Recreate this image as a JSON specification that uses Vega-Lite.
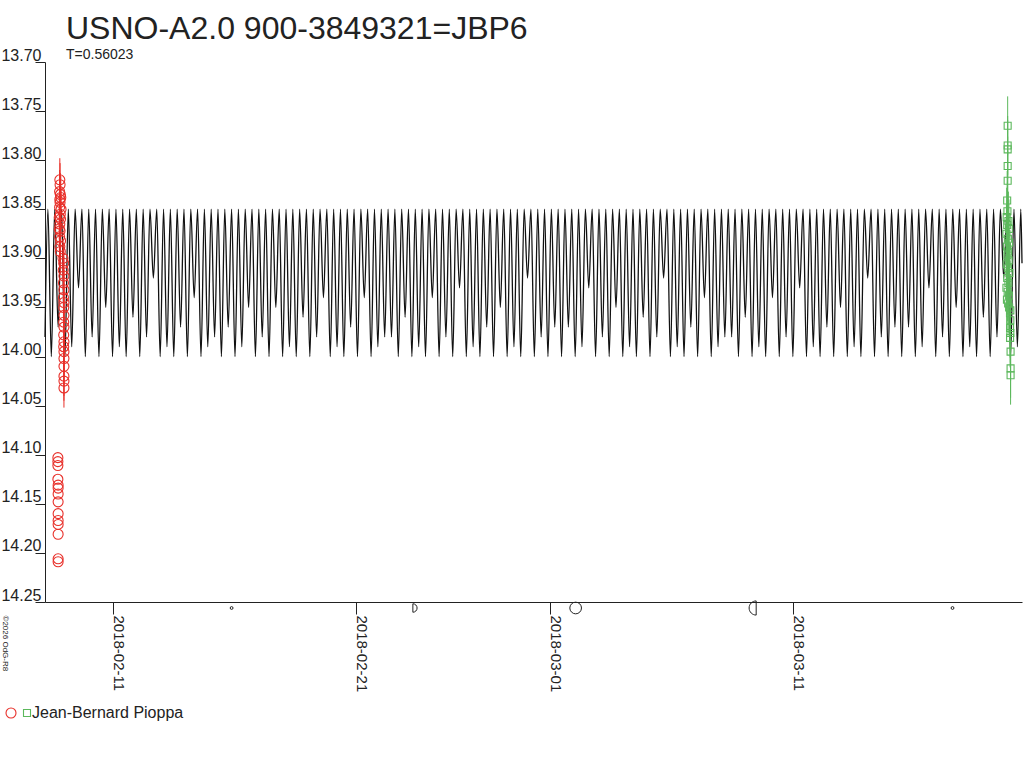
{
"$schema":"https://vega.github.io/schema/vega-lite/v6.json",
"width":977,"height":540,
"autosize":"none",
"padding":{"left":45,"top":62,"right":2,"bottom":166},
"background":"white",
"config":{"view":{"stroke":null},"font":"Liberation Sans","axis":{"grid":false,"domainColor":"#222","tickColor":"#222","labelColor":"#222","labelFont":"Liberation Sans","titleFont":"Liberation Sans"},"legend":{"padding":0,"symbolStrokeWidth":1.1}},
"title":{"text":"USNO-A2.0 900-3849321=JBP6","subtitle":"T=0.56023","anchor":"start","frame":"group","dx":21,"offset":-16,"fontSize":32,"fontWeight":"normal","font":"Liberation Sans","color":"#222","subtitleFont":"Liberation Sans","subtitleFontSize":14,"subtitleColor":"#222","subtitlePadding":2},
"datasets":{
"curve":[
{"t":157.70,"m":13.98},
{"t":157.82,"m":13.85},{"t":157.96,"m":14.00},{"t":158.10,"m":13.85},{"t":158.24,"m":13.97},{"t":158.38,"m":13.85},{"t":158.52,"m":14.00},{"t":158.66,"m":13.85},{"t":158.80,"m":13.99},{"t":158.94,"m":13.85},{"t":159.08,"m":13.93},
{"t":159.22,"m":13.85},{"t":159.36,"m":14.00},{"t":159.50,"m":13.85},{"t":159.64,"m":13.98},{"t":159.78,"m":13.85},{"t":159.92,"m":14.00},{"t":160.06,"m":13.85},{"t":160.20,"m":13.95},{"t":160.34,"m":13.85},{"t":160.48,"m":14.00},
{"t":160.62,"m":13.85},{"t":160.76,"m":13.99},{"t":160.90,"m":13.85},{"t":161.04,"m":14.00},{"t":161.18,"m":13.85},{"t":161.32,"m":13.96},{"t":161.46,"m":13.85},{"t":161.60,"m":14.00},{"t":161.74,"m":13.85},{"t":161.88,"m":13.98},
{"t":162.02,"m":13.85},{"t":162.16,"m":13.92},{"t":162.30,"m":13.85},{"t":162.44,"m":14.00},{"t":162.58,"m":13.85},{"t":162.72,"m":13.99},{"t":162.86,"m":13.85},{"t":163.00,"m":14.00},{"t":163.14,"m":13.85},{"t":163.28,"m":13.97},
{"t":163.42,"m":13.85},{"t":163.56,"m":14.00},{"t":163.70,"m":13.85},{"t":163.84,"m":13.94},{"t":163.98,"m":13.85},{"t":164.12,"m":14.00},{"t":164.26,"m":13.85},{"t":164.40,"m":13.99},{"t":164.54,"m":13.85},{"t":164.68,"m":13.98},
{"t":164.82,"m":13.85},{"t":164.96,"m":14.00},{"t":165.10,"m":13.85},{"t":165.24,"m":13.97},{"t":165.38,"m":13.85},{"t":165.52,"m":14.00},{"t":165.66,"m":13.85},{"t":165.80,"m":13.99},{"t":165.94,"m":13.85},{"t":166.08,"m":13.95},
{"t":166.22,"m":13.85},{"t":166.36,"m":14.00},{"t":166.50,"m":13.85},{"t":166.64,"m":13.98},{"t":166.78,"m":13.85},{"t":166.92,"m":14.00},{"t":167.06,"m":13.85},{"t":167.20,"m":13.95},{"t":167.34,"m":13.85},{"t":167.48,"m":14.00},
{"t":167.62,"m":13.85},{"t":167.76,"m":13.99},{"t":167.90,"m":13.85},{"t":168.04,"m":14.00},{"t":168.18,"m":13.85},{"t":168.32,"m":13.96},{"t":168.46,"m":13.85},{"t":168.60,"m":14.00},{"t":168.74,"m":13.85},{"t":168.88,"m":13.98},
{"t":169.02,"m":13.85},{"t":169.16,"m":13.94},{"t":169.30,"m":13.85},{"t":169.44,"m":14.00},{"t":169.58,"m":13.85},{"t":169.72,"m":13.99},{"t":169.86,"m":13.85},{"t":170.00,"m":14.00},{"t":170.14,"m":13.85},{"t":170.28,"m":13.97},
{"t":170.42,"m":13.85},{"t":170.56,"m":14.00},{"t":170.70,"m":13.85},{"t":170.84,"m":13.94},{"t":170.98,"m":13.85},{"t":171.12,"m":14.00},{"t":171.26,"m":13.85},{"t":171.40,"m":13.99},{"t":171.54,"m":13.85},{"t":171.68,"m":13.98},
{"t":171.82,"m":13.85},{"t":171.96,"m":13.98},{"t":172.10,"m":13.85},{"t":172.24,"m":14.00},{"t":172.38,"m":13.85},{"t":172.52,"m":13.96},{"t":172.66,"m":13.85},{"t":172.80,"m":14.00},{"t":172.94,"m":13.85},{"t":173.08,"m":13.99},
{"t":173.22,"m":13.85},{"t":173.36,"m":14.00},{"t":173.50,"m":13.85},{"t":173.64,"m":13.94},{"t":173.78,"m":13.85},{"t":173.92,"m":14.00},{"t":174.06,"m":13.85},{"t":174.20,"m":13.98},{"t":174.34,"m":13.85},{"t":174.48,"m":14.00},
{"t":174.62,"m":13.85},{"t":174.76,"m":13.93},{"t":174.90,"m":13.85},{"t":175.04,"m":14.00},{"t":175.18,"m":13.85},{"t":175.32,"m":13.99},{"t":175.46,"m":13.85},{"t":175.60,"m":14.00},{"t":175.74,"m":13.85},{"t":175.88,"m":13.97},
{"t":176.02,"m":13.85},{"t":176.16,"m":14.00},{"t":176.30,"m":13.85},{"t":176.44,"m":13.95},{"t":176.58,"m":13.85},{"t":176.72,"m":14.00},{"t":176.86,"m":13.85},{"t":177.00,"m":13.99},{"t":177.14,"m":13.85},{"t":177.28,"m":14.00},
{"t":177.42,"m":13.85},{"t":177.56,"m":13.92},{"t":177.70,"m":13.85},{"t":177.84,"m":14.00},{"t":177.98,"m":13.85},{"t":178.12,"m":13.98},{"t":178.26,"m":13.85},{"t":178.40,"m":14.00},{"t":178.54,"m":13.85},{"t":178.68,"m":13.97},
{"t":178.82,"m":13.85},{"t":178.96,"m":14.00},{"t":179.10,"m":13.85},{"t":179.24,"m":13.97},{"t":179.38,"m":13.85},{"t":179.52,"m":14.00},{"t":179.66,"m":13.85},{"t":179.80,"m":13.99},{"t":179.94,"m":13.85},{"t":180.08,"m":13.93},
{"t":180.22,"m":13.85},{"t":180.36,"m":14.00},{"t":180.50,"m":13.85},{"t":180.64,"m":13.98},{"t":180.78,"m":13.85},{"t":180.92,"m":14.00},{"t":181.06,"m":13.85},{"t":181.20,"m":13.95},{"t":181.34,"m":13.85},{"t":181.48,"m":14.00},
{"t":181.62,"m":13.85},{"t":181.76,"m":13.99},{"t":181.90,"m":13.85},{"t":182.04,"m":14.00},{"t":182.18,"m":13.85},{"t":182.32,"m":13.96},{"t":182.46,"m":13.85},{"t":182.60,"m":14.00},{"t":182.74,"m":13.85},{"t":182.88,"m":13.98},
{"t":183.02,"m":13.85},{"t":183.16,"m":13.92},{"t":183.30,"m":13.85},{"t":183.44,"m":14.00},{"t":183.58,"m":13.85},{"t":183.72,"m":13.99},{"t":183.86,"m":13.85},{"t":184.00,"m":14.00},{"t":184.14,"m":13.85},{"t":184.28,"m":13.97},
{"t":184.42,"m":13.85},{"t":184.56,"m":14.00},{"t":184.70,"m":13.85},{"t":184.84,"m":13.94},{"t":184.98,"m":13.85},{"t":185.12,"m":14.00},{"t":185.26,"m":13.85},{"t":185.40,"m":13.99},{"t":185.54,"m":13.85},{"t":185.68,"m":13.98},
{"t":185.82,"m":13.85},{"t":185.96,"m":13.98},{"t":186.10,"m":13.85},{"t":186.24,"m":14.00},{"t":186.38,"m":13.85},{"t":186.52,"m":13.96},{"t":186.66,"m":13.85},{"t":186.80,"m":14.00},{"t":186.94,"m":13.85},{"t":187.08,"m":13.99},
{"t":187.22,"m":13.85},{"t":187.36,"m":14.00},{"t":187.50,"m":13.85},{"t":187.64,"m":13.94},{"t":187.78,"m":13.85},{"t":187.92,"m":14.00},{"t":188.06,"m":13.85},{"t":188.20,"m":13.98},{"t":188.34,"m":13.85},{"t":188.48,"m":14.00},
{"t":188.62,"m":13.85},{"t":188.76,"m":13.93},{"t":188.90,"m":13.85},{"t":189.04,"m":14.00},{"t":189.18,"m":13.85},{"t":189.32,"m":13.99},{"t":189.46,"m":13.85},{"t":189.60,"m":14.00},{"t":189.74,"m":13.85},{"t":189.88,"m":13.97},
{"t":190.02,"m":13.85},{"t":190.16,"m":14.00},{"t":190.30,"m":13.85},{"t":190.44,"m":13.95},{"t":190.58,"m":13.85},{"t":190.72,"m":14.00},{"t":190.86,"m":13.85},{"t":191.00,"m":13.99},{"t":191.14,"m":13.85},{"t":191.28,"m":14.00},
{"t":191.42,"m":13.85},{"t":191.56,"m":13.92},{"t":191.70,"m":13.85},{"t":191.84,"m":14.00},{"t":191.98,"m":13.85},{"t":192.12,"m":13.98},{"t":192.26,"m":13.85},{"t":192.40,"m":14.00},{"t":192.54,"m":13.85},{"t":192.68,"m":13.97},
{"t":192.82,"m":13.85},{"t":192.96,"m":14.00},{"t":193.10,"m":13.85},{"t":193.24,"m":13.97},{"t":193.38,"m":13.85},{"t":193.52,"m":14.00},{"t":193.66,"m":13.85},{"t":193.80,"m":13.99},{"t":193.94,"m":13.85},{"t":194.08,"m":13.93},
{"t":194.22,"m":13.85},{"t":194.36,"m":14.00},{"t":194.50,"m":13.85},{"t":194.64,"m":13.98},{"t":194.78,"m":13.85},{"t":194.92,"m":14.00},{"t":195.06,"m":13.85},{"t":195.20,"m":13.95},{"t":195.34,"m":13.85},{"t":195.48,"m":14.00},
{"t":195.62,"m":13.85},{"t":195.76,"m":13.99},{"t":195.90,"m":13.85},{"t":196.04,"m":14.00},{"t":196.18,"m":13.85},{"t":196.32,"m":13.96},{"t":196.46,"m":13.85},{"t":196.60,"m":14.00},{"t":196.74,"m":13.85},{"t":196.88,"m":13.98},
{"t":197.02,"m":13.85},{"t":197.16,"m":13.92},{"t":197.30,"m":13.85},{"t":197.44,"m":14.00},{"t":197.58,"m":13.85},{"t":197.72,"m":13.99},{"t":197.86,"m":13.85},{"t":197.91,"m":13.905}
],
"obs":[
{"t":158.23,"m":14.103,"e":0,"n":"2018-02-08"},{"t":158.23,"m":14.107,"e":0,"n":"2018-02-08"},{"t":158.23,"m":14.111,"e":0,"n":"2018-02-08"},{"t":158.23,"m":14.125,"e":0,"n":"2018-02-08"},{"t":158.24,"m":14.131,"e":0,"n":"2018-02-08"},{"t":158.24,"m":14.134,"e":0,"n":"2018-02-08"},{"t":158.24,"m":14.140,"e":0,"n":"2018-02-08"},{"t":158.24,"m":14.148,"e":0,"n":"2018-02-08"},{"t":158.24,"m":14.160,"e":0,"n":"2018-02-08"},{"t":158.24,"m":14.167,"e":0,"n":"2018-02-08"},{"t":158.24,"m":14.171,"e":0,"n":"2018-02-08"},{"t":158.24,"m":14.181,"e":0,"n":"2018-02-08"},{"t":158.24,"m":14.206,"e":0,"n":"2018-02-08"},{"t":158.24,"m":14.209,"e":0,"n":"2018-02-08"},
{"t":158.31,"m":13.820,"e":0.022,"n":"2018-02-08"},{"t":158.32,"m":13.825,"e":0.022,"n":"2018-02-08"},{"t":158.30,"m":13.832,"e":0.022,"n":"2018-02-08"},{"t":158.33,"m":13.835,"e":0.022,"n":"2018-02-08"},{"t":158.35,"m":13.838,"e":0.022,"n":"2018-02-08"},{"t":158.31,"m":13.840,"e":0.022,"n":"2018-02-08"},{"t":158.32,"m":13.843,"e":0.022,"n":"2018-02-08"},{"t":158.30,"m":13.848,"e":0.022,"n":"2018-02-08"},{"t":158.36,"m":13.850,"e":0.022,"n":"2018-02-08"},{"t":158.33,"m":13.855,"e":0.022,"n":"2018-02-08"},{"t":158.29,"m":13.858,"e":0.022,"n":"2018-02-08"},{"t":158.34,"m":13.860,"e":0.022,"n":"2018-02-08"},{"t":158.31,"m":13.865,"e":0.022,"n":"2018-02-08"},{"t":158.29,"m":13.870,"e":0.022,"n":"2018-02-08"},{"t":158.32,"m":13.872,"e":0.022,"n":"2018-02-08"},{"t":158.30,"m":13.878,"e":0.022,"n":"2018-02-08"},{"t":158.34,"m":13.882,"e":0.022,"n":"2018-02-08"},{"t":158.31,"m":13.888,"e":0.022,"n":"2018-02-08"},{"t":158.33,"m":13.893,"e":0.022,"n":"2018-02-08"},
{"t":158.44,"m":13.900,"e":0.02,"n":"2018-02-08"},{"t":158.47,"m":13.905,"e":0.02,"n":"2018-02-08"},{"t":158.45,"m":13.912,"e":0.02,"n":"2018-02-08"},{"t":158.48,"m":13.918,"e":0.02,"n":"2018-02-08"},{"t":158.46,"m":13.925,"e":0.02,"n":"2018-02-08"},{"t":158.48,"m":13.932,"e":0.02,"n":"2018-02-08"},{"t":158.46,"m":13.940,"e":0.02,"n":"2018-02-08"},{"t":158.48,"m":13.945,"e":0.02,"n":"2018-02-08"},{"t":158.47,"m":13.950,"e":0.02,"n":"2018-02-08"},{"t":158.48,"m":13.958,"e":0.02,"n":"2018-02-08"},{"t":158.47,"m":13.965,"e":0.02,"n":"2018-02-08"},{"t":158.48,"m":13.970,"e":0.02,"n":"2018-02-08"},{"t":158.47,"m":13.978,"e":0.02,"n":"2018-02-08"},{"t":158.48,"m":13.985,"e":0.02,"n":"2018-02-08"},{"t":158.47,"m":13.990,"e":0.02,"n":"2018-02-08"},{"t":158.48,"m":13.995,"e":0.02,"n":"2018-02-08"},{"t":158.48,"m":14.002,"e":0.02,"n":"2018-02-08"},{"t":158.48,"m":14.010,"e":0.02,"n":"2018-02-08"},{"t":158.48,"m":14.020,"e":0.02,"n":"2018-02-08"},{"t":158.48,"m":14.025,"e":0.02,"n":"2018-02-08"},{"t":158.48,"m":14.032,"e":0.02,"n":"2018-02-08"},
{"t":197.32,"m":13.765,"e":0.03,"n":"2018-03-19"},{"t":197.32,"m":13.785,"e":0.03,"n":"2018-03-19"},{"t":197.32,"m":13.789,"e":0.03,"n":"2018-03-19"},{"t":197.32,"m":13.806,"e":0.03,"n":"2018-03-19"},{"t":197.32,"m":13.821,"e":0.03,"n":"2018-03-19"},{"t":197.30,"m":13.841,"e":0.03,"n":"2018-03-19"},{"t":197.31,"m":13.852,"e":0.03,"n":"2018-03-19"},{"t":197.28,"m":13.858,"e":0.03,"n":"2018-03-19"},{"t":197.35,"m":13.862,"e":0.03,"n":"2018-03-19"},{"t":197.30,"m":13.866,"e":0.03,"n":"2018-03-19"},{"t":197.37,"m":13.870,"e":0.03,"n":"2018-03-19"},{"t":197.27,"m":13.875,"e":0.03,"n":"2018-03-19"},{"t":197.33,"m":13.880,"e":0.03,"n":"2018-03-19"},{"t":197.38,"m":13.884,"e":0.03,"n":"2018-03-19"},{"t":197.29,"m":13.888,"e":0.03,"n":"2018-03-19"},{"t":197.34,"m":13.893,"e":0.03,"n":"2018-03-19"},{"t":197.31,"m":13.897,"e":0.03,"n":"2018-03-19"},{"t":197.36,"m":13.902,"e":0.03,"n":"2018-03-19"},{"t":197.28,"m":13.906,"e":0.03,"n":"2018-03-19"},{"t":197.33,"m":13.910,"e":0.03,"n":"2018-03-19"},{"t":197.39,"m":13.915,"e":0.03,"n":"2018-03-19"},{"t":197.30,"m":13.920,"e":0.03,"n":"2018-03-19"},{"t":197.35,"m":13.925,"e":0.03,"n":"2018-03-19"},{"t":197.27,"m":13.930,"e":0.03,"n":"2018-03-19"},{"t":197.32,"m":13.934,"e":0.03,"n":"2018-03-19"},{"t":197.37,"m":13.938,"e":0.03,"n":"2018-03-19"},{"t":197.29,"m":13.942,"e":0.03,"n":"2018-03-19"},{"t":197.34,"m":13.946,"e":0.03,"n":"2018-03-19"},{"t":197.38,"m":13.950,"e":0.03,"n":"2018-03-19"},{"t":197.43,"m":13.953,"e":0.03,"n":"2018-03-19"},{"t":197.43,"m":13.963,"e":0.03,"n":"2018-03-19"},{"t":197.42,"m":13.971,"e":0.03,"n":"2018-03-19"},{"t":197.43,"m":13.976,"e":0.03,"n":"2018-03-19"},{"t":197.42,"m":13.981,"e":0.03,"n":"2018-03-19"},{"t":197.44,"m":13.995,"e":0.03,"n":"2018-03-19"},{"t":197.44,"m":14.012,"e":0.03,"n":"2018-03-19"},{"t":197.44,"m":14.019,"e":0.03,"n":"2018-03-19"}
],
"moon":[
{"t":165.38,"phase":"new"},{"t":172.84,"phase":"first quarter"},{"t":179.54,"phase":"full"},{"t":186.97,"phase":"last quarter"},{"t":195.05,"phase":"new"}
]
},
"layer":[
{"data":{"name":"curve"},
 "mark":{"type":"line","color":"#111","strokeWidth":1.3,"interpolate":"monotone"},
 "encoding":{
  "x":{"field":"t","type":"quantitative","scale":{"domain":[157.7,197.91],"nice":false,"zero":false},
   "axis":{"values":[160.5,170.5,178.5,188.5],"labelExpr":"utcFormat((datum.value + 17412.5) * 86400000, '%Y-%m-%d')","labelAngle":90,"labelAlign":"left","labelBaseline":"alphabetic","tickSize":12,"labelPadding":1,"labelFontSize":15,"labelFlush":false,"labelOverlap":false,"title":"©2026 OdG-R8","titleAngle":90,"titleX":-41,"titleY":13,"titleAlign":"left","titleBaseline":"middle","titleFontSize":8,"titleFontWeight":"normal","titleColor":"#222"}},
  "y":{"field":"m","type":"quantitative","scale":{"domain":[13.7,14.25],"reverse":true,"nice":false,"zero":false},
   "axis":{"values":[13.7,13.75,13.8,13.85,13.9,13.95,14,14.05,14.1,14.15,14.2,14.25],"format":".2f","tickSize":10,"labelPadding":-6,"labelBaseline":"alphabetic","labelOffset":-2,"labelFontSize":16,"labelOverlap":false,"labelFlush":false,"title":null}}
 }},
{"data":{"name":"obs"},
 "mark":{"type":"errorbar","thickness":1},
 "encoding":{
  "x":{"field":"t","type":"quantitative"},
  "y":{"field":"m","type":"quantitative"},
  "yError":{"field":"e"},
  "color":{"field":"n","type":"nominal","scale":{"domain":["2018-02-08","2018-03-19"],"range":["#e8302a","#5cb85c"]},"legend":null}
 }},
{"data":{"name":"obs"},
 "mark":{"type":"point","filled":false,"strokeWidth":1.1,"opacity":1},
 "encoding":{
  "x":{"field":"t","type":"quantitative"},
  "y":{"field":"m","type":"quantitative"},
  "stroke":{"field":"n","type":"nominal","scale":{"domain":["2018-02-08","2018-03-19"],"range":["#e8302a","#5cb85c"]},
   "legend":{"orient":"none","legendX":-42,"legendY":643,"direction":"horizontal","columns":2,"title":null,"labelExpr":"datum.value == '2018-03-19' ? '\u00a0\u00a0\u00a0Jean-Bernard Pioppa' : ''","labelFontSize":16,"labelColor":"#222","labelFont":"Liberation Sans","columnPadding":0,"labelOffset":-3,"padding":0}},
  "shape":{"field":"n","type":"nominal","scale":{"domain":["2018-02-08","2018-03-19"],"range":["circle","square"]}},
  "size":{"field":"n","type":"nominal","scale":{"domain":["2018-02-08","2018-03-19"],"range":[100,49]}}
 }},
{"data":{"name":"moon"},
 "mark":{"type":"point","filled":false,"stroke":"#222","strokeWidth":1,"opacity":1,"yOffset":6},
 "encoding":{
  "x":{"field":"t","type":"quantitative"},
  "y":{"datum":14.25},
  "shape":{"field":"phase","type":"nominal","scale":{"domain":["new","first quarter","full","last quarter"],"range":["circle","M0,-1A1,1 0 0 1 0,1Z","circle","M0,-1A1,1 0 0 0 0,1Z"]},"legend":null},
  "size":{"field":"phase","type":"nominal","scale":{"domain":["new","first quarter","full","last quarter"],"range":[8,200,45,200]},"legend":null}
 }}
],
"resolve":{"scale":{"shape":"independent","size":"independent","color":"independent","stroke":"independent"}}
}
